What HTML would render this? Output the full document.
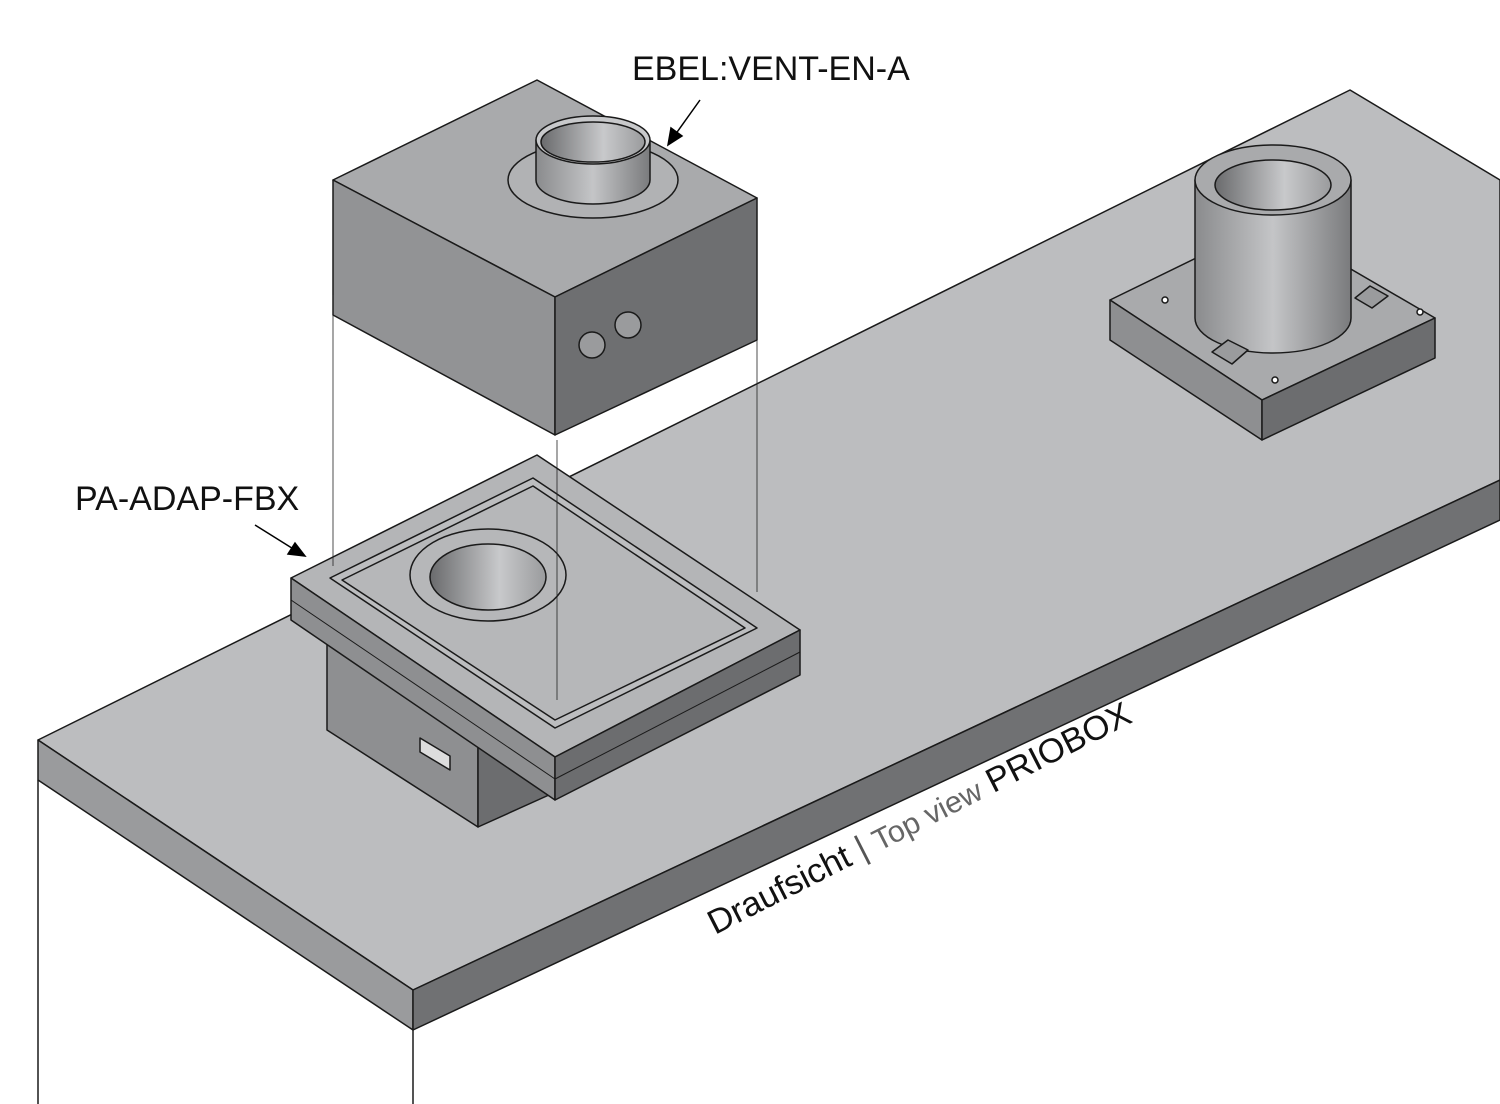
<!DOCTYPE html>
<html><head><meta charset="utf-8"><style>html,body{margin:0;padding:0;background:#fff}svg{display:block}</style></head>
<body>
<svg width="1500" height="1104" viewBox="0 0 1500 1104" xmlns="http://www.w3.org/2000/svg" font-family="Liberation Sans, sans-serif">
<defs>
<linearGradient id="cyl" x1="0" x2="1" y1="0" y2="0"><stop offset="0" stop-color="#8a8b8d"/><stop offset="0.5" stop-color="#c4c5c7"/><stop offset="1" stop-color="#7a7b7d"/></linearGradient>
<linearGradient id="hole" x1="0" x2="1"><stop offset="0" stop-color="#6a6b6d"/><stop offset="0.6" stop-color="#c8c9cb"/><stop offset="1" stop-color="#9a9b9d"/></linearGradient>
</defs>
<g stroke="#1a1a1a" stroke-width="1.5" stroke-linejoin="round">
<polygon points="38,740 1350,90 1500,180 1500,480 413,990" fill="#bcbdbf"/>
<polygon points="38,740 413,990 413,1030 38,780" fill="#9a9b9d"/>
<polygon points="413,990 1500,480 1500,520 413,1030" fill="#707173"/>
<line x1="38" y1="780" x2="38" y2="1104"/>
<line x1="413" y1="1030" x2="413" y2="1104"/>
<polygon points="1110,300 1270,222 1435,318 1262,400" fill="#a9aaac"/>
<polygon points="1110,300 1262,400 1262,440 1110,340" fill="#8e8f91"/>
<polygon points="1262,400 1435,318 1435,358 1262,440" fill="#6c6d6f"/>
<path d="M1195,180 L1195,318 A78,35 0 0 0 1351,318 L1351,180 Z" fill="url(#cyl)"/>
<ellipse cx="1273" cy="180" rx="78" ry="35" fill="#a9aaac"/>
<ellipse cx="1273" cy="185" rx="58" ry="25" fill="url(#hole)"/>
<polygon points="1212,352 1228,340 1248,350 1232,364" fill="#9a9b9d"/>
<polygon points="1355,298 1370,286 1388,296 1372,308" fill="#9a9b9d"/>
<circle cx="1165" cy="300" r="3" fill="#fff"/><circle cx="1420" cy="312" r="3" fill="#fff"/><circle cx="1275" cy="380" r="3" fill="#fff"/>
<polygon points="327,640 478,740 478,827 327,730" fill="#8e8f91"/>
<polygon points="478,740 560,700 560,790 478,827" fill="#6c6d6f"/>
<polygon points="420,738 450,756 450,770 420,752" fill="#ddd"/>
<polygon points="291,578 537,455 800,630 555,757" fill="#b4b5b7"/>
<polygon points="291,578 555,757 555,800 291,620" fill="#8e8f91"/>
<polygon points="555,757 800,630 800,675 555,800" fill="#6c6d6f"/>
<line x1="291" y1="600" x2="555" y2="779" stroke-width="1"/>
<line x1="555" y1="779" x2="800" y2="652" stroke-width="1"/>
<polygon points="330,578 533,478 757,628 555,728" fill="#bcbdbf"/>
<polygon points="342,580 533,486 745,628 555,720" fill="#b6b7b9"/>
<ellipse cx="488" cy="575" rx="78" ry="46" fill="#b6b7b9"/>
<ellipse cx="488" cy="577" rx="58" ry="33" fill="url(#hole)"/>
<polygon points="333,180 537,80 757,198 555,297" fill="#a9aaac"/>
<polygon points="333,180 555,297 555,435 333,315" fill="#929395"/>
<polygon points="555,297 757,198 757,340 555,435" fill="#6e6f71"/>
<ellipse cx="593" cy="180" rx="85" ry="38" fill="#b1b2b4"/>
<path d="M536,140 L536,180 A57,24 0 0 0 650,180 L650,140 Z" fill="url(#cyl)"/>
<ellipse cx="593" cy="140" rx="57" ry="24" fill="#c8c9cb"/>
<ellipse cx="593" cy="142" rx="52" ry="20" fill="url(#hole)"/>
<circle cx="592" cy="345" r="13" fill="#9a9b9d"/>
<circle cx="628" cy="325" r="13" fill="#9a9b9d"/>
</g>
<g stroke="#222" stroke-width="0.8">
<line x1="333" y1="295" x2="333" y2="566"/>
<line x1="757" y1="340" x2="757" y2="592"/>
<line x1="557" y1="440" x2="557" y2="700"/>
</g>
<g stroke="#000" stroke-width="1.5" fill="#000">
<line x1="700" y1="100" x2="675" y2="135"/><polygon points="668,145 671,128 682,136"/>
<line x1="255" y1="525" x2="295" y2="550"/><polygon points="305,556 288,554 295,543"/>
</g>
<text x="632" y="80" font-size="34" fill="#111">EBEL:VENT-EN-A</text>
<text x="75" y="510" font-size="34" fill="#111">PA-ADAP-FBX</text>
<text transform="translate(715,935) rotate(-27)" font-size="34" fill="#111" textLength="470" lengthAdjust="spacingAndGlyphs">Draufsicht <tspan fill="#555">| </tspan><tspan fill="#666" font-size="30">Top view</tspan> PRIOBOX</text>
</svg>
</body></html>
